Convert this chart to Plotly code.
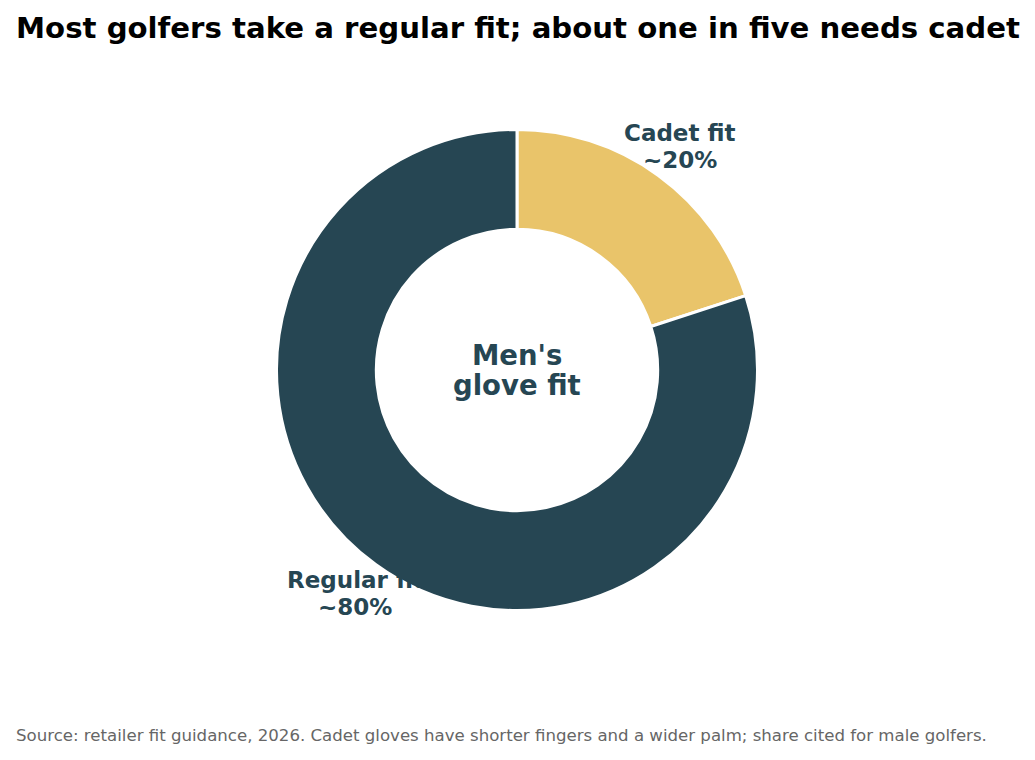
import plotly.graph_objects as go

labels = ["Cadet fit", "Regular fit"]
values = [20, 80]
share_texts = ["~20%", "~80%"]
center_lines = ["Men's", "glove fit"]
colors = ["#E9C46A", "#264653"]

W, H = 1035, 760
OFF = 8  # page body margin
cx, cy, R = 517 - OFF, 370 - OFF, 240.5

def px(x):
    return (x - OFF) / W

def py(y):
    return 1 - (y - OFF) / H

fig = go.Figure(go.Pie(
    labels=labels,
    values=values,
    sort=False,
    direction="clockwise",
    rotation=0,
    hole=0.585,
    marker=dict(colors=colors, line=dict(color="white", width=3)),
    textinfo="none",
    showlegend=False,
    domain=dict(x=[(cx - R) / W, (cx + R) / W], y=[1 - (cy + R) / H, 1 - (cy - R) / H]),
))

font_fam = "DejaVu Sans"
dark = "#264653"

def add_line(x, y, text, size, color=dark, xanchor="center"):
    fig.add_annotation(x=px(x), y=py(y), xref="paper", yref="paper",
                       xanchor=xanchor, yanchor="middle",
                       text=text, showarrow=False,
                       font=dict(family=font_fam, size=size, color=color))

# slice labels: name line + share line
label_pos = [(680, 133, 160), (355, 580, 607)]
for (x, y1, y2), name, share in zip(label_pos, labels, share_texts):
    add_line(x, y1, "<b>" + name + "</b>", 23)
    add_line(x, y2, "<b>" + share + "</b>", 23)

# centre text
add_line(517, 355, "<b>" + center_lines[0] + "</b>", 27.5)
add_line(517, 385, "<b>" + center_lines[1] + "</b>", 27.5)

add_line(13.5, 735,
         "Source: retailer fit guidance, 2026. Cadet gloves have shorter fingers and a wider palm; share cited for male golfers.",
         16.6, color="#666666", xanchor="left")

fig.update_layout(
    width=W, height=H,
    margin=dict(l=0, r=0, t=0, b=0),
    paper_bgcolor="white", plot_bgcolor="white",
    title=dict(text="<b>Most golfers take a regular fit; about one in five needs cadet</b>",
               x=px(518), xanchor="center", y=py(28), yanchor="middle", yref="container",
               font=dict(family=font_fam, size=29.2, color="black")),
)

fig.write_html("out.html")
